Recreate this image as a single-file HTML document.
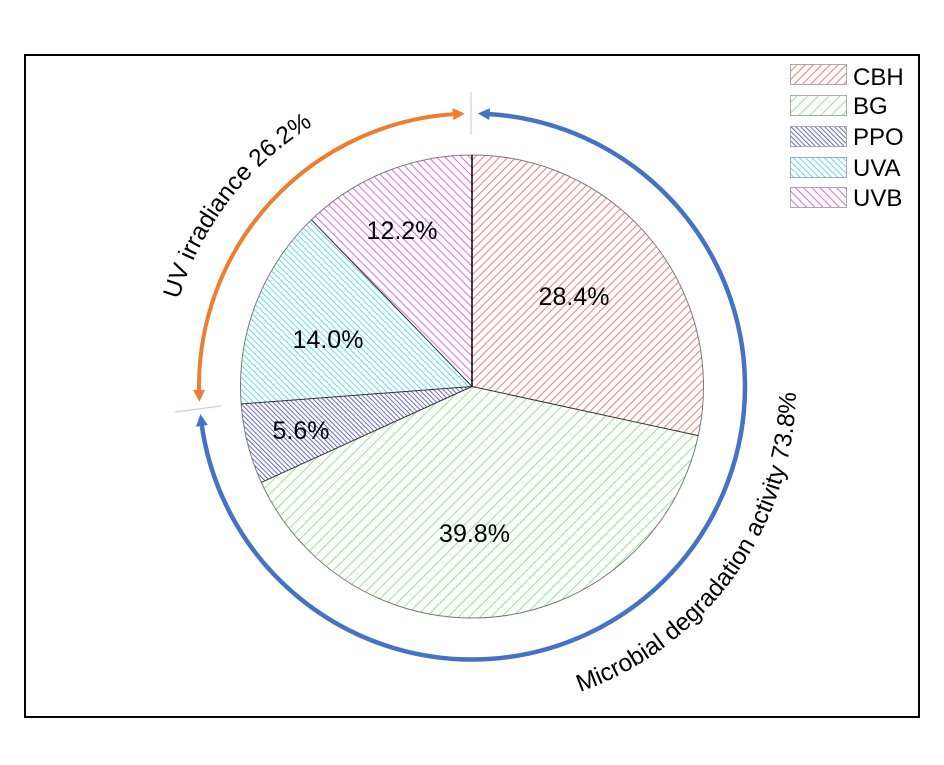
<!DOCTYPE html>
<html>
<head>
<meta charset="utf-8">
<style>
  html,body{margin:0;padding:0;background:#fff;}
  svg{display:block;}
  text{font-family:"Liberation Sans",Arial,sans-serif;fill:#000;}
</style>
</head>
<body>
<svg width="944" height="765" viewBox="0 0 944 765" xmlns="http://www.w3.org/2000/svg">
  <defs>
    <pattern id="pCBH" patternUnits="userSpaceOnUse" width="5.8" height="10" patternTransform="rotate(45)">
      <line x1="0.5" y1="0" x2="0.5" y2="10" stroke="#ef7b7b" stroke-width="1"/>
    </pattern>
    <pattern id="pBG" patternUnits="userSpaceOnUse" width="7.6" height="10" patternTransform="rotate(45)">
      <line x1="0.5" y1="0" x2="0.5" y2="10" stroke="#8fe68f" stroke-width="1"/>
    </pattern>
    <pattern id="pPPO" patternUnits="userSpaceOnUse" width="3.4" height="10" patternTransform="rotate(-45)">
      <line x1="0.5" y1="0" x2="0.5" y2="10" stroke="#5a5ac8" stroke-width="0.9"/>
    </pattern>
    <pattern id="pUVA" patternUnits="userSpaceOnUse" width="4.4" height="10" patternTransform="rotate(-45)">
      <line x1="0.5" y1="0" x2="0.5" y2="10" stroke="#5ee0e0" stroke-width="1"/>
    </pattern>
    <pattern id="pUVB" patternUnits="userSpaceOnUse" width="5.8" height="10" patternTransform="rotate(-45)">
      <line x1="0.5" y1="0" x2="0.5" y2="10" stroke="#dd6add" stroke-width="1"/>
    </pattern>
    <path id="uvPath" d="M178.6,299.59 A308,308 0 0 1 392.8,90.93" fill="none"/>
    <path id="mdPath" d="M580.15,691.92 A324,324 0 0 0 791.08,330.24" fill="none"/>
  </defs>

  <!-- frame -->
  <rect x="25" y="55" width="894" height="662" fill="#fff" stroke="#000" stroke-width="2"/>

  <!-- pie slices -->
  <path d="M472,386.5 L472,155 A231.5,231.5 0 0 1 698.23,435.6 Z" fill="url(#pCBH)" stroke="none"/>
  <path d="M472,386.5 L698.23,435.6 A231.5,231.5 0 0 1 261.31,482.43 Z" fill="url(#pBG)" stroke="none"/>
  <path d="M472,386.5 L261.31,482.43 A231.5,231.5 0 0 1 241.16,403.94 Z" fill="url(#pPPO)" stroke="none"/>
  <path d="M472,386.5 L241.16,403.94 A231.5,231.5 0 0 1 311.42,219.75 Z" fill="url(#pUVA)" stroke="none"/>
  <path d="M472,386.5 L311.42,219.75 A231.5,231.5 0 0 1 472,155 Z" fill="url(#pUVB)" stroke="none"/>

  <!-- outline -->
  <circle cx="472" cy="386.5" r="231.5" fill="none" stroke="#7a7a7a" stroke-width="1"/>
  <g stroke="#333" stroke-width="1">
    <line x1="472" y1="386.5" x2="698.23" y2="435.6"/>
    <line x1="472" y1="386.5" x2="261.31" y2="482.43"/>
    <line x1="472" y1="386.5" x2="241.16" y2="403.94"/>
    <line x1="472" y1="386.5" x2="311.42" y2="219.75"/>
  </g>
  <line x1="472" y1="386.5" x2="472" y2="155" stroke="#000" stroke-width="1.5"/>

  <!-- slice labels -->
  <g font-size="25" text-anchor="middle">
    <text x="574" y="305">28.4%</text>
    <text x="474.5" y="542">39.8%</text>
    <text x="301" y="439">5.6%</text>
    <text x="328" y="348">14.0%</text>
    <text x="402" y="239">12.2%</text>
  </g>

  <!-- separators -->
  <line x1="471" y1="92" x2="471" y2="135" stroke="#c3d1e6" stroke-width="1.2"/>
  <line x1="175" y1="412" x2="221" y2="406" stroke="#c3d1e6" stroke-width="1.2"/>

  <!-- orange arc -->
  <path d="M457.71,113.87 A273,273 0 0 0 199.09,393.65" fill="none" stroke="#ed7d31" stroke-width="4"/>
  <polygon points="464.85,113.6 452.54,108.18 453.38,120.16" fill="#ed7d31"/>
  <polygon points="199.43,401.74 193.02,389.91 205.02,389.77" fill="#ed7d31"/>

  <!-- blue arc -->
  <path d="M486.29,113.87 A273,273 0 1 1 201.21,421.19" fill="none" stroke="#4472c4" stroke-width="4.5"/>
  <polygon points="477.72,113.56 490.01,108.08 489.23,120.06" fill="#4472c4"/>
  <polygon points="200.4,414.09 195.92,426.78 207.8,425.04" fill="#4472c4"/>

  <!-- curved labels -->
  <text font-size="24.5"><textPath href="#uvPath">UV irradiance 26.2%</textPath></text>
  <text font-size="24.5"><textPath href="#mdPath">Microbial degradation activity 73.8%</textPath></text>

  <!-- legend -->
  <g stroke="#a8a8a8" stroke-width="1">
    <rect x="790.5" y="64.5" width="56" height="20" fill="url(#pCBH)"/>
    <rect x="790.5" y="95.5" width="56" height="20" fill="url(#pBG)"/>
    <rect x="790.5" y="126.5" width="56" height="20" fill="url(#pPPO)"/>
    <rect x="790.5" y="157.5" width="56" height="20" fill="url(#pUVA)"/>
    <rect x="790.5" y="187.5" width="56" height="20" fill="url(#pUVB)"/>
  </g>
  <g font-size="24">
    <text x="853" y="85">CBH</text>
    <text x="853" y="114">BG</text>
    <text x="853" y="145">PPO</text>
    <text x="853" y="176">UVA</text>
    <text x="853" y="206">UVB</text>
  </g>
</svg>
</body>
</html>
